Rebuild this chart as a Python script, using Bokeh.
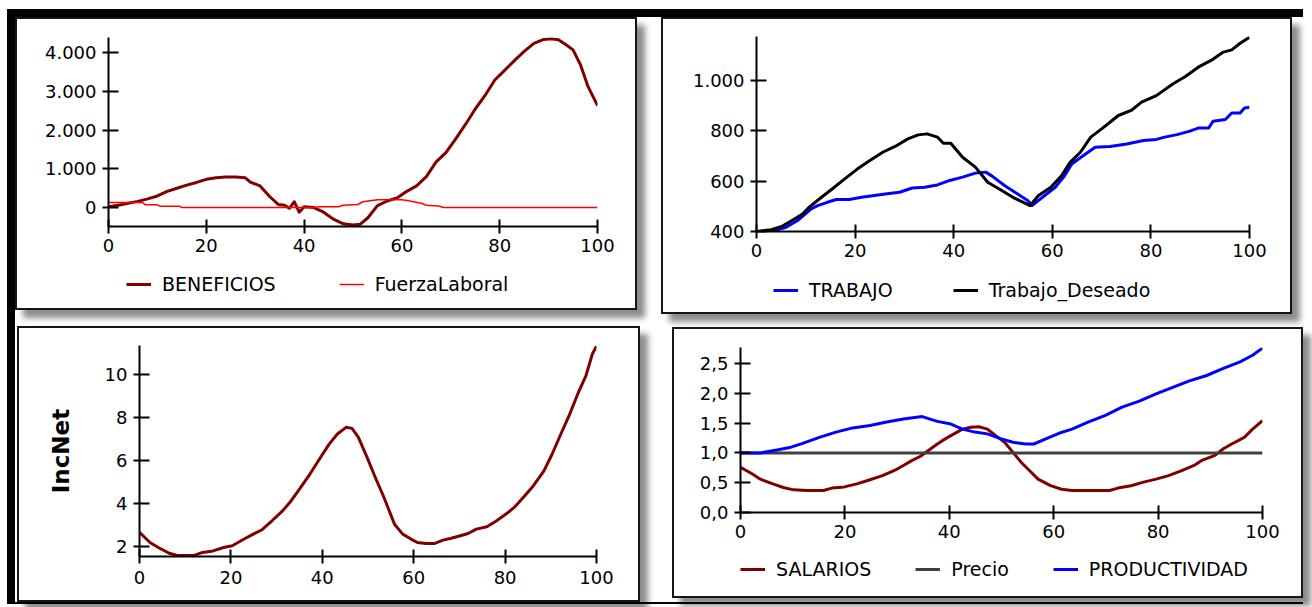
import numpy as np
from bokeh.plotting import figure
from bokeh.models import Range1d, FixedTicker, Legend, LegendItem
from bokeh.core.properties import value
from bokeh.layouts import row, column
from bokeh.embed import file_html
from bokeh.resources import INLINE

# ---------------- data ----------------
X_TICKS = [0, 20, 40, 60, 80, 100]
X_LABELS = ["0", "20", "40", "60", "80", "100"]

# Panel 1
BENEF_X = [0, 2, 4, 6, 8, 10, 12, 14, 16, 18, 20, 22, 24, 26, 28, 29, 31, 33, 34.7, 36, 37, 38, 39, 40,
           42, 44, 46, 48, 50, 51.5, 53, 55, 57, 59, 61, 63, 65, 67, 69, 71, 73, 75, 77, 79, 81, 83,
           85, 87, 89, 90.5, 92, 93.5, 95, 96.5, 98, 100]
BENEF_Y = [20, 60, 110, 160, 225, 300, 420, 500, 580, 650, 730, 770, 790, 790, 770, 660, 560, 280, 80, 60,
           -20, 150, -120, 20, 0, -120, -300, -420, -450, -430, -270, 50, 170, 250, 420, 560, 800, 1180,
           1420, 1780, 2150, 2550, 2900, 3300, 3550, 3800, 4040, 4250, 4350, 4370, 4340, 4220, 4080,
           3700, 3150, 2640]
FUERZA_X = [0, 7, 7.5, 10, 10.5, 14.5, 15, 42, 43, 47, 48, 51, 52, 55, 60, 61, 64, 65, 67.5, 68.5, 100]
FUERZA_Y = [130, 130, 70, 70, 35, 35, 0, 0, 20, 20, 60, 80, 150, 200, 200, 180, 110, 60, 40, 0, 0]
Y1_TICKS = [0, 1000, 2000, 3000, 4000]
Y1_LABELS = ["0", "1.000", "2.000", "3.000", "4.000"]

# Panel 2
TRAB_X = [0, 3, 4.3, 6, 8.5, 11.1, 12.4, 14.5, 16.2, 18.8, 21.3, 23.9, 26.5, 29, 31.6, 34.1, 36.7, 39.2,
          41.8, 44.4, 46.5, 47.8, 50.3, 52.9, 55, 55.9, 58, 60.6, 62.3, 64, 66.6, 68.7, 71.7, 75.1, 78.5,
          81.1, 82.8, 85.3, 87.9, 89.6, 91.7, 92.6, 95.1, 96.4, 98.1, 99, 100]
TRAB_Y = [400, 400, 407, 417, 446, 490, 503, 517, 527, 527, 536, 543, 550, 556, 573, 576, 585, 603, 616,
          632, 636, 620, 583, 550, 523, 503, 536, 576, 616, 669, 706, 735, 738, 748, 762, 766, 775, 785,
          799, 811, 811, 838, 845, 871, 871, 891, 894]
TDES_X = [0, 3, 5.1, 7.7, 9.4, 10.7, 12.8, 15.4, 17.9, 20.5, 23, 25.6, 28.2, 30.7, 32.8, 34.6, 36.7, 37.9,
          39.4, 41.8, 44.4, 46.9, 49.5, 52, 53.8, 55.5, 57.2, 59.7, 61.9, 63.6, 65.7, 67.8, 70, 71.7, 73.4,
          76, 78.1, 81.1, 84.5, 87, 89.6, 92.2, 94.7, 96.4, 98.1, 100]
TDES_Y = [400, 407, 420, 450, 470, 497, 530, 570, 609, 649, 682, 715, 739, 768, 784, 788, 775, 751, 751,
          695, 656, 596, 566, 536, 519, 503, 543, 576, 622, 675, 715, 775, 808, 834, 861, 881, 914, 940,
          987, 1016, 1053, 1080, 1113, 1122, 1148, 1172]
Y2_TICKS = [400, 600, 800, 1000]
Y2_LABELS = ["400", "600", "800", "1.000"]

# Panel 3
INC_X = [0, 2.3, 4.1, 6.5, 8.3, 12, 13.8, 16.1, 18.4, 20.3, 22.6, 24.9, 26.7, 29, 31.3, 33.2, 35, 37.3,
         39.6, 41.5, 43.3, 45.2, 46.5, 47.9, 49.8, 51.6, 53.5, 55.8, 57.6, 59.4, 60.8, 62.7, 64.5, 66.4,
         68.2, 70, 71.9, 73.7, 76, 77.9, 80.2, 82, 84.3, 86.2, 88.5, 90.3, 92.2, 94, 95.9, 97.7, 99.1, 100]
INC_Y = [2.67, 2.2, 1.97, 1.7, 1.6, 1.6, 1.74, 1.81, 1.97, 2.05, 2.33, 2.59, 2.78, 3.21, 3.67, 4.14, 4.68,
         5.38, 6.15, 6.77, 7.24, 7.55, 7.5, 7.08, 6.15, 5.22, 4.29, 3.05, 2.59, 2.36, 2.2, 2.15, 2.15, 2.31,
         2.4, 2.5, 2.62, 2.82, 2.93, 3.18, 3.52, 3.83, 4.37, 4.84, 5.53, 6.31, 7.24, 8.09, 9.1, 9.95, 10.96,
         11.32]
Y3_TICKS = [2, 4, 6, 8, 10]
Y3_LABELS = ["2", "4", "6", "8", "10"]

# Panel 4
SAL_X = [0, 2.2, 3.8, 6.2, 8.2, 10.2, 12.7, 15.9, 17.5, 19.9, 22.3, 24.8, 27.2, 29.6, 31.2, 32.8, 34.4, 36,
         37.7, 39.3, 40.9, 42.5, 44.1, 45.7, 47.3, 48.9, 50.6, 52.2, 53.8, 55.4, 57, 59.4, 61.5, 63.5, 70.7,
         72.3, 74.8, 77.2, 79.6, 82, 84.4, 86.9, 88.5, 90.9, 92.5, 94.1, 96.5, 98.1, 100]
SAL_Y = [0.76, 0.65, 0.56, 0.48, 0.42, 0.38, 0.37, 0.37, 0.41, 0.43, 0.48, 0.55, 0.62, 0.71, 0.79, 0.87,
         0.94, 1.04, 1.15, 1.24, 1.32, 1.40, 1.43, 1.44, 1.40, 1.29, 1.18, 1.01, 0.84, 0.70, 0.56, 0.45,
         0.39, 0.37, 0.37, 0.41, 0.45, 0.51, 0.56, 0.62, 0.70, 0.79, 0.88, 0.96, 1.07, 1.15, 1.26, 1.40, 1.54]
PRECIO_X = [0, 100]
PRECIO_Y = [1.0, 1.0]
PROD_X = [0, 3.8, 7, 9.4, 11.9, 15.1, 18.3, 21.5, 24.8, 28, 31.2, 34.8, 37.7, 40.1, 42.5, 44.9, 47.3, 49.8,
          52.2, 54.6, 56.2, 58.6, 61, 63.5, 66.7, 69.9, 73.1, 76.4, 79.6, 82.8, 86, 89.3, 92.5, 95.7, 98.1, 100]
PROD_Y = [1.0, 1.0, 1.05, 1.09, 1.16, 1.26, 1.35, 1.42, 1.46, 1.52, 1.57, 1.61, 1.53, 1.49, 1.40, 1.35, 1.32,
          1.24, 1.18, 1.15, 1.15, 1.24, 1.33, 1.40, 1.52, 1.63, 1.77, 1.87, 1.99, 2.10, 2.21, 2.30, 2.42, 2.53,
          2.64, 2.76]
Y4_TICKS = [0, 0.5, 1.0, 1.5, 2.0, 2.5]
Y4_LABELS = ["0,0", "0,5", "1,0", "1,5", "2,0", "2,5"]

# ---------------- styling helpers ----------------
FONT = "DejaVu Sans"
PANEL_STYLE = {"border": "2px solid #151515",
               "box-shadow": "8px 8px 6px rgba(0,0,0,0.45)", "background-color": "white"}


def make_fig(w, h, left, right, top, bottom, yr, yticks, ylabels):
    p = figure(width=w, height=h, x_range=Range1d(0, 100), y_range=Range1d(*yr),
               output_backend="svg", toolbar_location=None,
               min_border_left=left, min_border_right=right,
               min_border_top=top, min_border_bottom=bottom)
    p.grid.visible = False
    p.outline_line_color = None
    p.background_fill_color = "white"
    p.border_fill_color = "white"
    p.xaxis.ticker = FixedTicker(ticks=X_TICKS)
    p.xaxis.major_label_overrides = {t: l for t, l in zip(X_TICKS, X_LABELS)}
    p.yaxis.ticker = FixedTicker(ticks=yticks)
    p.yaxis.major_label_overrides = {t: l for t, l in zip(yticks, ylabels)}
    for ax in (p.xaxis[0], p.yaxis[0]):
        ax.minor_tick_line_color = None
        ax.axis_line_color = "black"
        ax.axis_line_width = 2
        ax.major_tick_line_color = "black"
        ax.major_tick_line_width = 2
        ax.major_label_text_font = FONT
        ax.major_label_text_font_size = "18px"
        ax.major_label_text_color = "black"
    p.xaxis.major_tick_in = 7
    p.xaxis.major_tick_out = 7
    p.xaxis.major_label_standoff = 5
    p.yaxis.major_tick_in = 10
    p.yaxis.major_tick_out = 6
    p.yaxis.major_label_standoff = 6
    return p


def make_legend_fig(w, h, entries, loc, spacing):
    """Small axis-less figure (frame aligned with the plot above) holding a horizontal legend."""
    lf = figure(width=w, height=h, x_range=Range1d(0, 1), y_range=Range1d(0, 1),
                output_backend="svg", toolbar_location=None,
                x_axis_location=None, y_axis_location=None, min_border=0)
    lf.grid.visible = False
    lf.outline_line_color = None
    lf.background_fill_color = "white"
    lf.border_fill_color = "white"
    items = []
    for label, color, lw in entries:
        # key sample only: one undefined point so the legend has a style to draw
        r = lf.line(np.array([np.nan]), np.array([np.nan]), line_color=color, line_width=lw)
        items.append(LegendItem(label=value(label), renderers=[r]))
    lf.add_layout(Legend(items=items, orientation="horizontal", location=loc, spacing=spacing,
                         border_line_color=None, background_fill_alpha=0,
                         padding=0, margin=0, glyph_width=25, glyph_height=20,
                         label_standoff=11, label_height=20,
                         label_text_font=FONT, label_text_font_size="19px", label_text_color="black"))
    return lf


# Panel 1 (outer page box 15..637 x 17..310)
p1 = make_fig(618, 251, 91, 38, 18, 44, (-490, 4400), Y1_TICKS, Y1_LABELS)
p1.line(BENEF_X, BENEF_Y, line_color="#800000", line_width=3, line_join="round")
p1.line(FUERZA_X, FUERZA_Y, line_color="#ff0000", line_width=1.5)
l1 = make_legend_fig(618, 38, [("BENEFICIOS", "#800000", 3), ("FuerzaLaboral", "#ff0000", 1.5)], (18, 13), 63)
w1 = column(p1, l1)
w1.styles = dict(PANEL_STYLE)

# Panel 2 (outer page box 661..1292 x 17..314)
p2 = make_fig(627, 255, 93, 41, 17, 43, (400, 1175), Y2_TICKS, Y2_LABELS)
p2.line(TRAB_X, TRAB_Y, line_color="#0000ff", line_width=3, line_join="round")
p2.line(TDES_X, TDES_Y, line_color="#000000", line_width=3, line_join="round")
l2 = make_legend_fig(627, 38, [("TRABAJO", "#0000ff", 3), ("Trabajo_Deseado", "#000000", 3)], (17, 11), 60)
w2 = column(p2, l2)
w2.styles = dict(PANEL_STYLE)
w2.margin = (0, 0, 0, 24)

# Panel 3 (outer page box 17..640 x 326..602)
p3 = make_fig(619, 272, 120, 42, 17, 44, (1.55, 11.35), Y3_TICKS, Y3_LABELS)
p3.line(INC_X, INC_Y, line_color="#800000", line_width=3, line_join="round")
p3.yaxis.axis_label = "IncNet"
p3.yaxis.axis_label_text_font = FONT
p3.yaxis.axis_label_text_font_style = "bold"
p3.yaxis.axis_label_text_font_size = "23px"
p3.yaxis.axis_label_text_color = "black"
p3.yaxis.axis_label_standoff = 28
p3.xaxis.major_label_standoff = 7
w3 = column(p3)
w3.styles = dict(PANEL_STYLE)
w3.margin = (12, 0, 0, 2)

# Panel 4 (outer page box 672..1303 x 327..598)
p4 = make_fig(627, 223, 66, 39, 18, 40, (0, 2.77), Y4_TICKS, Y4_LABELS)
p4.line(SAL_X, SAL_Y, line_color="#800000", line_width=3, line_join="round")
p4.line(PRECIO_X, PRECIO_Y, line_color="#404040", line_width=3)
p4.line(PROD_X, PROD_Y, line_color="#0000ff", line_width=3, line_join="round")
l4 = make_legend_fig(627, 44, [("SALARIOS", "#800000", 3), ("Precio", "#404040", 3),
                               ("PRODUCTIVIDAD", "#0000ff", 3)], (0, 16), 44)
w4 = column(p4, l4)
w4.styles = dict(PANEL_STYLE)
w4.margin = (13, 0, 0, 32)

root = column(row(w1, w2), row(w3, w4))
root.margin = (9, 0, 0, 7)
root.styles = {
    "border-top": "8px solid #000",
    "border-left": "8px solid #000",
    "border-bottom": "2px solid #000",
    "background-color": "white",
}

open("out.html", "w").write(file_html(root, INLINE))
